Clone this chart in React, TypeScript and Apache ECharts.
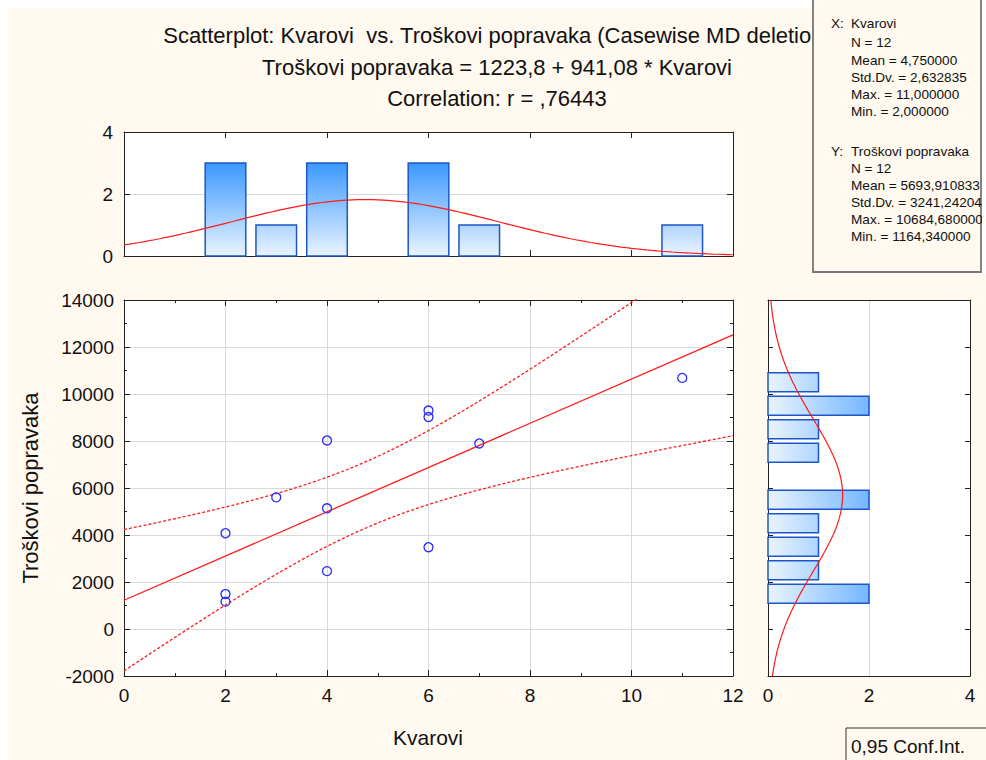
import React, { useEffect, useRef } from "react";
import * as echarts from "echarts";

// ---- Data ----
const kvarovi = [2, 2, 2, 3, 4, 4, 4, 6, 6, 6, 7, 11];
const troskovi = [4075, 1486, 1164.34, 5603, 8022, 5136, 2462, 9295, 9020, 3480, 7895, 10684.68];

// Histogram of Kvarovi (bin centres, counts)
const xBinCenters = [2, 3, 4, 6, 7, 11];
const xBinCounts = [3, 1, 3, 3, 1, 1];

// Histogram of Troškovi popravaka (bin centres, counts)
const yBinCenters = [1500, 2500, 3500, 4500, 5500, 6500, 7500, 8500, 9500, 10500];
const yBinCounts = [2, 1, 1, 1, 2, 0, 1, 1, 2, 1];

// Summary statistics shown in the chart
const nCases = 12;
const intercept = 1223.8;
const slope = 941.08;
const corrR = 0.76443;
const meanX = 4.75;
const sdX = 2.632835;
const meanY = 5693.910833;
const sdY = 3241.24204;
const tCrit = 2.228; // t(0.975, df=10)

const xTicks = [0, 2, 4, 6, 8, 10, 12];
const yTicks = [-2000, 0, 2000, 4000, 6000, 8000, 10000, 12000, 14000];

const titleLines = [
  "Scatterplot: Kvarovi  vs. Troškovi popravaka (Casewise MD deletion)",
  "Troškovi popravaka = 1223,8 + 941,08 * Kvarovi",
  "Correlation: r = ,76443",
];
const statsLines = [
  ["X:", "Kvarovi"],
  ["", "N = 12"],
  ["", "Mean = 4,750000"],
  ["", "Std.Dv. = 2,632835"],
  ["", "Max. = 11,000000"],
  ["", "Min. = 2,000000"],
  ["Y:", "Troškovi popravaka"],
  ["", "N = 12"],
  ["", "Mean = 5693,910833"],
  ["", "Std.Dv. = 3241,24204"],
  ["", "Max. = 10684,680000"],
  ["", "Min. = 1164,340000"],
];

const FONT = "Arial, 'Liberation Sans', sans-serif";
const CREAM = "#fff9ef";
const RED = "#ff1a1a";

function buildCurves() {
  const sxx = (nCases - 1) * sdX * sdX;
  const s = sdY * Math.sqrt(((1 - corrR * corrR) * (nCases - 1)) / (nCases - 2));
  const upper: number[][] = [];
  const lower: number[][] = [];
  for (let i = 0; i <= 120; i++) {
    const x = i / 10;
    const yh = intercept + slope * x;
    const se = s * Math.sqrt(1 / nCases + ((x - meanX) * (x - meanX)) / sxx);
    upper.push([x, yh + tCrit * se]);
    lower.push([x, yh - tCrit * se]);
  }
  const normX: number[][] = [];
  for (let i = 0; i <= 120; i++) {
    const x = i / 10;
    const z = (x - meanX) / sdX;
    normX.push([x, (nCases * 1) / (sdX * Math.sqrt(2 * Math.PI)) * Math.exp(-0.5 * z * z)]);
  }
  const normY: number[][] = [];
  for (let i = 0; i <= 160; i++) {
    const y = -2000 + i * 100;
    const z = (y - meanY) / sdY;
    normY.push([(nCases * 1000) / (sdY * Math.sqrt(2 * Math.PI)) * Math.exp(-0.5 * z * z), y]);
  }
  return { upper, lower, normX, normY };
}

const labelStyle = { fontFamily: FONT, fontSize: 19, color: "#111", formatter: (v: number) => String(v) };
const axisLine = { show: true, onZero: false, lineStyle: { color: "#222", width: 1 } };
const tick = (show: boolean, len = 6) => ({ show, inside: true, length: len, lineStyle: { color: "#222" } });
const minor = (show: boolean) => ({ show, splitNumber: 2, length: 3, lineStyle: { color: "#222" } });
const split = (show: boolean) => ({ show, lineStyle: { color: "#d9d9d9", width: 1 } });

export default function App() {
  const ref = useRef<HTMLDivElement>(null);
  useEffect(() => {
    const chart = echarts.init(ref.current!, null, { renderer: "svg" });
    const { upper, lower, normX, normY } = buildCurves();

    const scatterData = kvarovi.map((x, i) => [x, troskovi[i]]);
    const topHist = xBinCenters.map((c, i) => [c, xBinCounts[i]]);
    const rightHist = yBinCenters.map((c, i) => [c, yBinCounts[i]]).filter((d) => d[1] > 0);

    const graphics: any[] = [
      { type: "rect", shape: { x: 8, y: 8, width: 978, height: 752 }, style: { fill: CREAM }, z: -100, silent: true },
    ];
    const titleY = [35, 67, 98];
    titleLines.forEach((t, i) => {
      graphics.push({
        type: "text",
        x: 497,
        y: titleY[i],
        z: 1,
        style: { text: t, font: `22px ${FONT}`, fill: "#111", textAlign: "center", textVerticalAlign: "middle" },
      });
    });
    graphics.push({
      type: "rect",
      z: 50,
      shape: { x: 813, y: -2, width: 168, height: 274 },
      style: { fill: CREAM, stroke: "#777", lineWidth: 1.8 },
    });
    const statY = [23, 42, 60, 77, 94, 111, 151, 168, 185, 202, 219, 236];
    statsLines.forEach((l, i) => {
      if (l[0])
        graphics.push({
          type: "text", x: 831, y: statY[i], z: 51,
          style: { text: l[0], font: `13.6px ${FONT}`, fill: "#111", textAlign: "left", textVerticalAlign: "middle" },
        });
      graphics.push({
        type: "text", x: 851, y: statY[i], z: 51,
        style: { text: l[1], font: `13.6px ${FONT}`, fill: "#111", textAlign: "left", textVerticalAlign: "middle" },
      });
    });
    // white margin beyond the stats box (clips the overflowing text)
    graphics.push({
      type: "rect", z: 52, silent: true,
      shape: { x: 982, y: 0, width: 10, height: 273 },
      style: { fill: "#fff" },
    });
    graphics.push({
      type: "rect", z: 50,
      shape: { x: 846, y: 728, width: 150, height: 40 },
      style: { fill: CREAM, stroke: "#333", lineWidth: 1 },
    });
    graphics.push({
      type: "text", x: 851, y: 746, z: 51,
      style: { text: "0,95 Conf.Int.", font: `19px ${FONT}`, fill: "#111", textAlign: "left", textVerticalAlign: "middle" },
    });
    graphics.push({
      type: "text", x: 30, y: 488, rotation: Math.PI / 2, z: 5,
      style: { text: "Troškovi popravaka", font: `22px ${FONT}`, fill: "#111", textAlign: "center", textVerticalAlign: "middle" },
    });
    graphics.push({
      type: "text", x: 428, y: 737, z: 5,
      style: { text: "Kvarovi", font: `21px ${FONT}`, fill: "#111", textAlign: "center", textVerticalAlign: "middle" },
    });

    const option: any = {
      animation: false,
      backgroundColor: "transparent",
      textStyle: { fontFamily: FONT },
      graphic: graphics,
      grid: [
        { left: 124, top: 300, width: 609, height: 376, show: true, backgroundColor: "#fff", borderWidth: 0 },
        { left: 124, top: 132, width: 609, height: 124, show: true, backgroundColor: "#fff", borderWidth: 0 },
        { left: 768, top: 300, width: 202, height: 376, show: true, backgroundColor: "#fff", borderWidth: 0 },
      ],
      xAxis: [
        {
          type: "value", gridIndex: 0, position: "bottom", min: xTicks[0], max: xTicks[xTicks.length - 1], interval: 2,
          axisLine, axisTick: tick(true), minorTick: minor(true), splitLine: split(true),
          axisLabel: { ...labelStyle, margin: 10 },
        },
        {
          type: "value", gridIndex: 0, position: "top", min: 0, max: 12, interval: 2,
          axisLine, axisTick: tick(true), minorTick: minor(true), splitLine: split(false), axisLabel: { show: false },
        },
        {
          type: "value", gridIndex: 1, position: "bottom", min: 0, max: 12, interval: 2,
          axisLine, axisTick: tick(true), splitLine: split(false), axisLabel: { show: false },
        },
        {
          type: "value", gridIndex: 1, position: "top", min: 0, max: 12, interval: 2,
          axisLine, axisTick: tick(true), splitLine: split(false), axisLabel: { show: false },
        },
        {
          type: "value", gridIndex: 2, position: "bottom", min: 0, max: 4, interval: 2,
          axisLine, axisTick: tick(false), splitLine: split(true),
          axisLabel: { ...labelStyle, margin: 10 },
        },
        {
          type: "value", gridIndex: 2, position: "top", min: 0, max: 4, interval: 2,
          axisLine, axisTick: tick(false), splitLine: split(false), axisLabel: { show: false },
        },
      ],
      yAxis: [
        {
          type: "value", gridIndex: 0, position: "left", min: yTicks[0], max: yTicks[yTicks.length - 1], interval: 2000,
          axisLine, axisTick: tick(true), minorTick: minor(true), splitLine: split(true),
          axisLabel: { ...labelStyle, margin: 10 },
        },
        {
          type: "value", gridIndex: 0, position: "right", min: -2000, max: 14000, interval: 2000,
          axisLine, axisTick: tick(true), minorTick: minor(true), splitLine: split(false), axisLabel: { show: false },
        },
        {
          type: "value", gridIndex: 1, position: "left", min: 0, max: 4, interval: 2,
          axisLine, axisTick: tick(true), splitLine: split(true),
          axisLabel: { ...labelStyle, margin: 11 },
        },
        {
          type: "value", gridIndex: 1, position: "right", min: 0, max: 4, interval: 2,
          axisLine, axisTick: tick(true), splitLine: split(false), axisLabel: { show: false },
        },
        {
          type: "value", gridIndex: 2, position: "left", min: -2000, max: 14000, interval: 2000,
          axisLine, axisTick: tick(true, 5), splitLine: split(false), axisLabel: { show: false },
        },
        {
          type: "value", gridIndex: 2, position: "right", min: -2000, max: 14000, interval: 2000,
          axisLine, axisTick: tick(true, 5), splitLine: split(false), axisLabel: { show: false },
        },
      ],
      series: [
        {
          type: "line", xAxisIndex: 0, yAxisIndex: 0, symbol: "none", clip: true,
          data: [[0, intercept], [12, intercept + slope * 12]],
          lineStyle: { color: RED, width: 1.3 }, z: 3,
        },
        {
          type: "line", xAxisIndex: 0, yAxisIndex: 0, symbol: "none", clip: true, data: upper,
          lineStyle: { color: RED, width: 1.3, type: [3, 2] }, z: 3,
        },
        {
          type: "line", xAxisIndex: 0, yAxisIndex: 0, symbol: "none", clip: true, data: lower,
          lineStyle: { color: RED, width: 1.3, type: [3, 2] }, z: 3,
        },
        {
          type: "scatter", xAxisIndex: 0, yAxisIndex: 0, data: scatterData,
          symbol: "circle", symbolSize: 9,
          itemStyle: { color: "transparent", borderColor: "#2a2aff", borderWidth: 1.3, opacity: 1 }, z: 4,
        },
        {
          type: "custom", coordinateSystem: "cartesian2d", xAxisIndex: 2, yAxisIndex: 2, data: topHist, z: 2,
          renderItem: (_p: any, api: any) => {
            const c = api.value(0);
            const n = api.value(1);
            const a = api.coord([c - 0.4, n]);
            const b = api.coord([c + 0.4, 0]);
            const g0 = api.coord([0, 3]);
            const g1 = api.coord([0, 0]);
            return {
              type: "rect",
              shape: { x: a[0], y: a[1], width: b[0] - a[0], height: b[1] - a[1] },
              style: {
                fill: new echarts.graphic.LinearGradient(0, g0[1], 0, g1[1], [
                  { offset: 0, color: "#3a98ff" },
                  { offset: 1, color: "#eaf4ff" },
                ], true),
                stroke: "#1d56c9",
                lineWidth: 1.5,
              },
            };
          },
        },
        {
          type: "line", xAxisIndex: 2, yAxisIndex: 2, symbol: "none", data: normX,
          lineStyle: { color: RED, width: 1.2 }, z: 3,
        },
        {
          type: "custom", coordinateSystem: "cartesian2d", xAxisIndex: 4, yAxisIndex: 4, data: rightHist, z: 2,
          renderItem: (_p: any, api: any) => {
            const c = api.value(0);
            const n = api.value(1);
            const a = api.coord([0, c + 400]);
            const b = api.coord([n, c - 400]);
            const g0 = api.coord([0, 0]);
            const g1 = api.coord([3, 0]);
            return {
              type: "rect",
              shape: { x: a[0], y: a[1], width: b[0] - a[0], height: b[1] - a[1] },
              style: {
                fill: new echarts.graphic.LinearGradient(g0[0], 0, g1[0], 0, [
                  { offset: 0, color: "#eaf4ff" },
                  { offset: 1, color: "#3a98ff" },
                ], true),
                stroke: "#1d56c9",
                lineWidth: 1.5,
              },
            };
          },
        },
        {
          type: "line", xAxisIndex: 4, yAxisIndex: 4, symbol: "none", data: normY, clip: true,
          lineStyle: { color: RED, width: 1.2 }, z: 3,
        },
      ],
    };
    chart.setOption(option);
    return () => chart.dispose();
  }, []);
  return <div ref={ref} style={{ position: "absolute", left: 0, top: 0, width: 986, height: 760 }} />;
}
